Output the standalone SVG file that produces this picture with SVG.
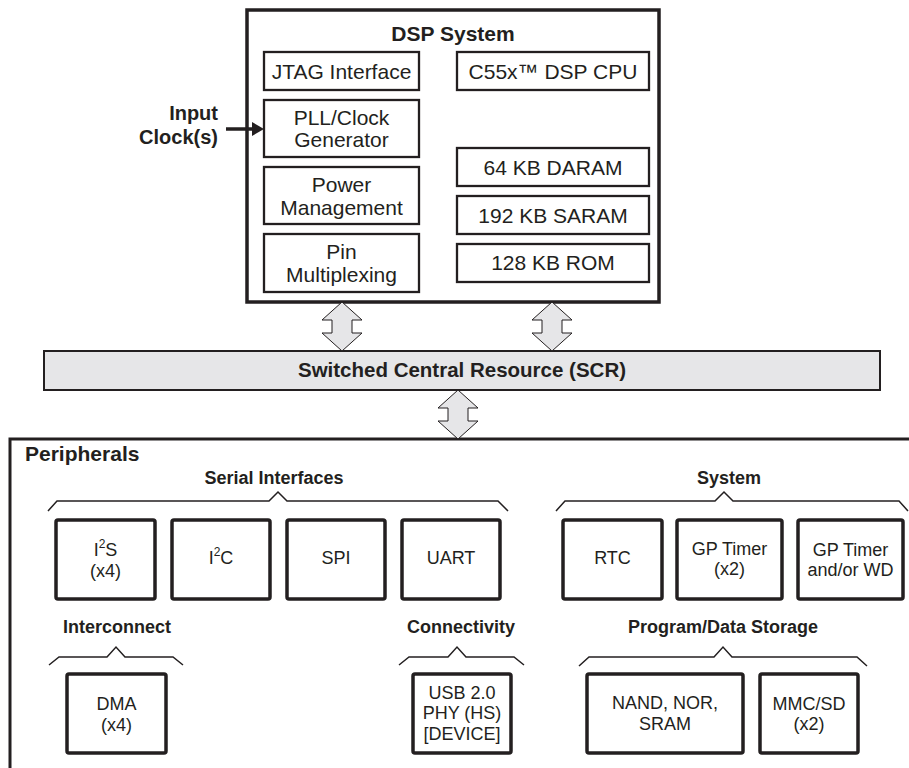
<svg xmlns="http://www.w3.org/2000/svg" width="909" height="768" viewBox="0 0 909 768">
<style>
text{font-family:"Liberation Sans",Arial,sans-serif;fill:#231f20;text-anchor:middle}
.b{font-weight:bold}
.t20{font-size:20px}
.t21{font-size:21px}
.t18{font-size:18px}
.inner{fill:#fff;stroke:#231f20;stroke-width:2.3}
.per{fill:#fff;stroke:#231f20;stroke-width:3.5}
.brace{fill:none;stroke:#231f20;stroke-width:1.5;stroke-linejoin:miter}
.dbl{fill:#e6e6e8;stroke:#231f20;stroke-width:1}
</style>
<rect width="909" height="768" fill="#fff"/>

<g id="dsp-system">
<rect x="247" y="10" width="412" height="292" fill="#fff" stroke="#231f20" stroke-width="3.5"/>
<text class="b" x="453" y="40.5" font-size="21">DSP System</text>
</g>
<g id="jtag"><rect class="inner" x="264" y="52" width="155" height="38"/><text class="t21" x="341.5" y="79">JTAG Interface</text></g>
<g id="pll"><rect class="inner" x="264" y="100" width="155" height="57"/><text class="t21" x="341.5" y="125">PLL/Clock</text><text class="t21" x="341.5" y="146.5">Generator</text></g>
<g id="power"><rect class="inner" x="264" y="167" width="155" height="57"/><text class="t21" x="341.5" y="192">Power</text><text class="t21" x="341.5" y="215">Management</text></g>
<g id="pinmux"><rect class="inner" x="264" y="234" width="155" height="58"/><text class="t21" x="341.5" y="259">Pin</text><text class="t21" x="341.5" y="282">Multiplexing</text></g>
<g id="cpu"><rect class="inner" x="457" y="52" width="192" height="38"/><text class="t21" x="553" y="79">C55x™ DSP CPU</text></g>
<g id="daram"><rect class="inner" x="457" y="148" width="192" height="38"/><text class="t21" x="553" y="174.5">64 KB DARAM</text></g>
<g id="saram"><rect class="inner" x="457" y="196" width="192" height="38"/><text class="t21" x="553" y="222.5">192 KB SARAM</text></g>
<g id="rom"><rect class="inner" x="457" y="244" width="192" height="38"/><text class="t21" x="553" y="270">128 KB ROM</text></g>

<g id="input-clock">
<text class="b t20" x="218" y="120" style="text-anchor:end">Input</text>
<text class="b t20" x="218" y="144" style="text-anchor:end">Clock(s)</text>
</g>

<g id="scr">
<rect x="44" y="351" width="836" height="39" fill="#e6e6e8" stroke="#231f20" stroke-width="2"/>
<text class="b" x="462" y="377" font-size="20.5">Switched Central Resource (SCR)</text>
</g>

<g id="peripherals">
<path d="M909 439 H10 V768" fill="none" stroke="#231f20" stroke-width="3"/>
<text class="b" x="25" y="460.5" font-size="21" style="text-anchor:start">Peripherals</text>
<text class="b t18" x="274" y="483.5">Serial Interfaces</text>
<text class="b t18" x="729" y="483.5">System</text>
<text class="b t18" x="117" y="632.5">Interconnect</text>
<text class="b t18" x="461" y="632.5">Connectivity</text>
<text class="b t18" x="723" y="632.5">Program/Data Storage</text>
<path class="brace" d="M48 511 L57 501 H269 L278 492 L287 501 H498 L508 511"/>
<path class="brace" d="M556 511 L565 501 H715 L724 492 L733 501 H899 L908 511"/>
<path class="brace" d="M49 665 L59 657 H107 L116 647 L125 657 H173 L183 665"/>
<path class="brace" d="M399 665 L409 657 H448 L457 647 L466 657 H514 L524 665"/>
<path class="brace" d="M579 666 L589 657 H714 L723 647 L732 657 H857 L867 666"/>
</g>

<g id="i2s"><rect class="per" x="56" y="520" width="99" height="79" rx="2"/><text class="t18" x="105.5" y="555.5">I<tspan font-size="12" dy="-8">2</tspan><tspan dy="8">S</tspan></text><text class="t18" x="105.5" y="576.5">(x4)</text></g>
<g id="i2c"><rect class="per" x="172" y="520" width="98" height="79" rx="2"/><text class="t18" x="221" y="563.5">I<tspan font-size="12" dy="-8">2</tspan><tspan dy="8">C</tspan></text></g>
<g id="spi"><rect class="per" x="287" y="520" width="98" height="79" rx="2"/><text class="t18" x="336" y="563.5">SPI</text></g>
<g id="uart"><rect class="per" x="402" y="520" width="98" height="79" rx="2"/><text class="t18" x="451" y="563.5">UART</text></g>
<g id="rtc"><rect class="per" x="563" y="520" width="99" height="79" rx="2"/><text class="t18" x="612.5" y="564">RTC</text></g>
<g id="gptimer"><rect class="per" x="677" y="520" width="105" height="79" rx="2"/><text class="t18" x="729.5" y="555">GP Timer</text><text class="t18" x="729.5" y="575">(x2)</text></g>
<g id="gptimer-wd"><rect class="per" x="798" y="520" width="105" height="79" rx="2"/><text class="t18" x="850.5" y="556">GP Timer</text><text class="t18" x="850.5" y="576">and/or WD</text></g>
<g id="dma"><rect class="per" x="67" y="674" width="99" height="79" rx="2"/><text class="t18" x="116.5" y="709.5">DMA</text><text class="t18" x="116.5" y="730.5">(x4)</text></g>
<g id="usb"><rect class="per" x="413" y="674" width="98" height="79" rx="2"/><text class="t18" x="462" y="698.5">USB 2.0</text><text class="t18" x="462" y="719">PHY (HS)</text><text class="t18" x="462" y="739.5">[DEVICE]</text></g>
<g id="nand"><rect class="per" x="587" y="674" width="156" height="79" rx="2"/><text class="t18" x="665" y="708.5">NAND, NOR,</text><text class="t18" x="665" y="729.5">SRAM</text></g>
<g id="mmcsd"><rect class="per" x="760" y="674" width="98" height="79" rx="2"/><text class="t18" x="809" y="709.5">MMC/SD</text><text class="t18" x="809" y="729.5">(x2)</text></g>

<g id="connectors">
<line x1="226" y1="129" x2="254" y2="129" stroke="#231f20" stroke-width="3.5"/>
<polygon points="252,122 264,129 252,136" fill="#231f20"/>
<polygon class="dbl" points="342,302 362,320 352,320 352,333 362,333 342,351 322,333 332,333 332,320 322,320"/>
<polygon class="dbl" points="552,302 572,320 562,320 562,333 572,333 552,351 532,333 542,333 542,320 532,320"/>
<polygon class="dbl" points="458,390 478,408 468,408 468,421 478,421 458,439 438,421 448,421 448,408 438,408"/>
</g>
</svg>
